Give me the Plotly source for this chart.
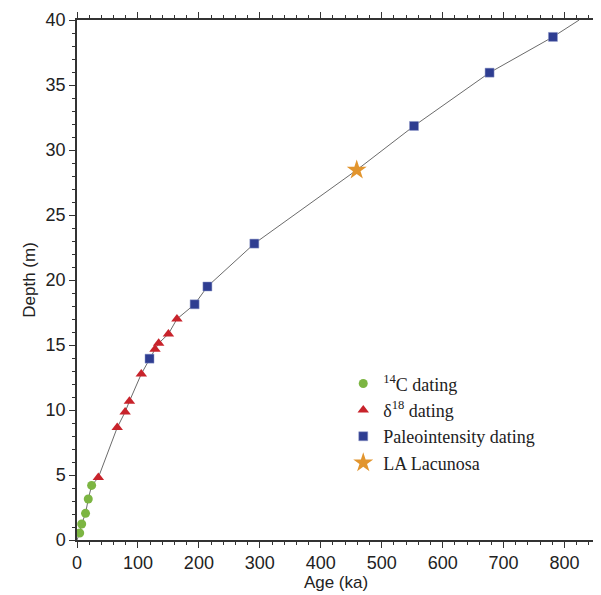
import plotly.graph_objects as go

# --- data ---
c14_age = [4.4, 7.7, 14, 18.5, 24]
c14_depth = [0.54, 1.23, 2.05, 3.15, 4.2]

d18_age = [35, 66, 79, 86, 105.5, 128, 134, 150, 164]
d18_depth = [4.8, 8.65, 9.85, 10.67, 12.77, 14.67, 15.13, 15.85, 17.0]

pal_age = [119, 193, 214, 291, 553, 677, 781]
pal_depth = [13.95, 18.13, 19.5, 22.8, 31.85, 35.95, 38.7]

lac_age = [459]
lac_depth = [28.46]

# age-depth model line (start and extrapolated end)
model_start = (0, 0)
model_end = (824, 40)

pts = sorted(
    list(zip(c14_age, c14_depth)) + list(zip(d18_age, d18_depth))
    + list(zip(pal_age, pal_depth)) + list(zip(lac_age, lac_depth)),
    key=lambda p: p[1])
line_age = [model_start[0]] + [p[0] for p in pts] + [model_end[0]]
line_depth = [model_start[1]] + [p[1] for p in pts] + [model_end[1]]

fig = go.Figure()
fig.add_trace(go.Scatter(x=line_age, y=line_depth, mode="lines",
                         line=dict(color="#6b6b6b", width=1), showlegend=False,
                         hoverinfo="skip"))
fig.add_trace(go.Scatter(x=c14_age, y=c14_depth, mode="markers", name="<sup>14</sup>C dating",
                         marker=dict(symbol="circle", size=9, color="#7cb542")))
fig.add_trace(go.Scatter(x=d18_age, y=d18_depth, mode="markers", name="δ<sup>18</sup> dating",
                         marker=dict(symbol="triangle-up", size=10, color="#c8232b")))
fig.add_trace(go.Scatter(x=pal_age, y=pal_depth, mode="markers", name="Paleointensity dating",
                         marker=dict(symbol="square", size=9, color="#2e3d91",
                                     line=dict(color="#8f98c8", width=0.5))))
fig.add_trace(go.Scatter(x=lac_age, y=lac_depth, mode="markers", name="LA Lacunosa",
                         marker=dict(symbol="star", size=15, color="#e2952e")))

axis_common = dict(showline=True, linecolor="#333", linewidth=1.5, mirror="ticks",
                   ticks="outside", ticklen=6, tickwidth=1, tickcolor="#333",
                   showgrid=False, zeroline=False, automargin=False,
                   tickfont=dict(family="Liberation Sans, Arial", size=18, color="#222"),
                   minor=dict(ticks="outside", ticklen=3, tickwidth=1, tickcolor="#333"))

fig.update_xaxes(range=[0, 850], tick0=0, dtick=100, minor_dtick=20,
                 title=dict(text="Age (ka)", standoff=3,
                            font=dict(family="Liberation Sans, Arial", size=17, color="#222")),
                 **axis_common)
fig.update_yaxes(range=[0, 40], tick0=0, dtick=5, minor_dtick=1,
                 title=dict(text="Depth (m)", standoff=6,
                            font=dict(family="Liberation Sans, Arial", size=17, color="#222")),
                 **axis_common)

fig.update_layout(
    width=593, height=587,
    margin=dict(l=69, r=6, t=12, b=55),
    plot_bgcolor="white", paper_bgcolor="white",
    legend=dict(x=0.514, y=0.336, xanchor="left", yanchor="top",
                font=dict(family="Liberation Serif, Times New Roman", size=18, color="#222"),
                bgcolor="rgba(0,0,0,0)", itemwidth=30, tracegroupgap=0),
)

fig.write_html("out.html")
